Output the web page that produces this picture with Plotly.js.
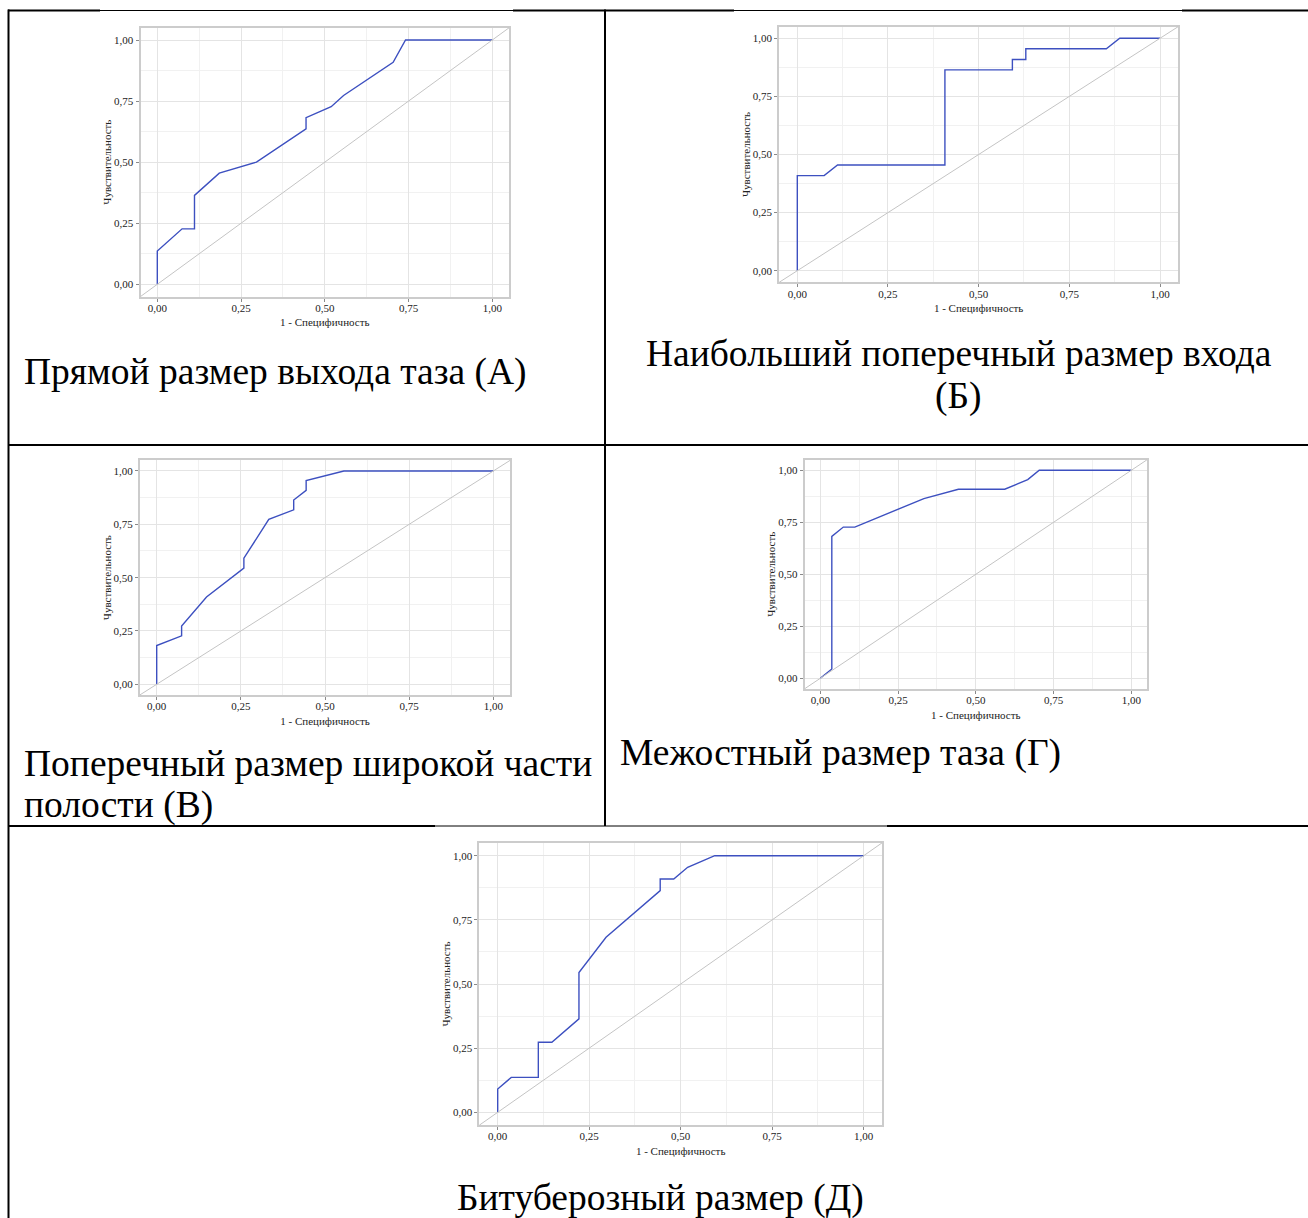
<!DOCTYPE html>
<html>
<head>
<meta charset="utf-8">
<script src="https://cdn.plot.ly/plotly-3.0.1.min.js"></script>
<style>
  html, body { margin: 0; padding: 0; background: #ffffff; }
  #chart { width: 1308px; height: 1218px; }
</style>
</head>
<body>
<div id="chart"></div>
<script>
// ---------- DATA ----------
const xTitle = "1 - Специфичность";
const yTitle = "Чувствительность";
const tickVals = [0, 0.25, 0.5, 0.75, 1];
const tickText = ["0,00", "0,25", "0,50", "0,75", "1,00"];

// (А) Прямой размер выхода таза
const fprA = [0, 0, 0.074, 0.111, 0.111, 0.185, 0.296, 0.444, 0.444, 0.519, 0.556, 0.704, 0.741, 1];
const tprA = [0, 0.136, 0.227, 0.227, 0.364, 0.455, 0.5, 0.636, 0.682, 0.727, 0.773, 0.909, 1, 1];

// (Б) Наибольший поперечный размер входа
const fprB = [0, 0, 0.074, 0.111, 0.407, 0.407, 0.593, 0.593, 0.630, 0.630, 0.852, 0.889, 1];
const tprB = [0, 0.409, 0.409, 0.455, 0.455, 0.864, 0.864, 0.909, 0.909, 0.955, 0.955, 1, 1];

// (В) Поперечный размер широкой части полости
const fprC = [0, 0, 0.074, 0.074, 0.148, 0.259, 0.259, 0.333, 0.407, 0.407, 0.444, 0.444, 0.556, 1];
const tprC = [0, 0.182, 0.227, 0.273, 0.409, 0.545, 0.591, 0.773, 0.818, 0.864, 0.909, 0.955, 1, 1];

// (Г) Межостный размер таза
const fprD = [0, 0.037, 0.037, 0.074, 0.111, 0.333, 0.444, 0.593, 0.667, 0.704, 1];
const tprD = [0, 0.045, 0.682, 0.727, 0.727, 0.864, 0.909, 0.909, 0.955, 1, 1];

// (Д) Битуберозный размер
const fprE = [0, 0, 0.037, 0.111, 0.111, 0.148, 0.222, 0.222, 0.296, 0.444, 0.444, 0.481, 0.519, 0.593, 1];
const tprE = [0, 0.091, 0.136, 0.136, 0.273, 0.273, 0.364, 0.545, 0.682, 0.864, 0.909, 0.909, 0.955, 1, 1];

const captionA = "Прямой размер выхода таза (А)";
const captionB = ["Наибольший поперечный размер входа", "(Б)"];
const captionC = ["Поперечный размер широкой части", "полости (В)"];
const captionD = "Межостный размер таза (Г)";
const captionE = "Битуберозный размер (Д)";

// ---------- LAYOUT GEOMETRY (pixels) ----------
const W = 1308, H = 1218;
// pixel positions of data 0 and 1 on each panel: [x0, x1, y0, y1]
const panels = [
  {fpr: fprA, tpr: tprA, px: [157.3, 492.3, 284.3, 40.0]},
  {fpr: fprB, tpr: tprB, px: [797.3, 1160.0, 270.7, 38.3]},
  {fpr: fprC, tpr: tprC, px: [156.7, 493.3, 684.3, 471.0]},
  {fpr: fprD, tpr: tprD, px: [820.3, 1131.3, 678.3, 470.3]},
  {fpr: fprE, tpr: tprE, px: [497.7, 863.7, 1112.3, 855.7]}
];
const PAD = 0.05;
const serif = "'Liberation Serif', 'Times New Roman', serif";

const traces = [];
const layout = {
  width: W, height: H,
  margin: {l: 0, r: 0, t: 0, b: 0},
  paper_bgcolor: "#ffffff",
  plot_bgcolor: "#ffffff",
  showlegend: false,
  font: {family: serif, color: "#222222"},
  shapes: [],
  annotations: []
};

panels.forEach((p, i) => {
  const n = i === 0 ? "" : String(i + 1);
  const [x0, x1, y0, y1] = p.px;
  const sx = x1 - x0, sy = y0 - y1;
  const left = x0 - PAD * sx, right = x1 + PAD * sx;
  const bottom = y0 + PAD * sy, top = y1 - PAD * sy;

  const axCommon = {
    range: [-PAD, 1 + PAD],
    tickvals: tickVals,
    ticktext: tickText,
    ticks: "outside",
    ticklen: 3,
    tickwidth: 1,
    tickcolor: "#8a8a8a",
    tickfont: {family: serif, size: 11, color: "#222222"},
    showline: true,
    mirror: true,
    linecolor: "#cccccc",
    linewidth: 2,
    showgrid: true,
    gridcolor: "#e4e4e4",
    gridwidth: 1,
    zeroline: false,
    minor: {dtick: 0.125, tick0: 0.125, showgrid: true, gridcolor: "#f1f1f1", ticks: ""},
    fixedrange: true
  };
  layout["xaxis" + n] = Object.assign({}, axCommon, {
    domain: [left / W, right / W],
    anchor: "y" + n,
    ticklabelstandoff: -3,
    title: {text: xTitle, font: {family: serif, size: 11, color: "#222222"}, standoff: 6}
  });
  layout["yaxis" + n] = Object.assign({}, axCommon, {
    domain: [1 - bottom / H, 1 - top / H],
    anchor: "x" + n,
    title: {text: yTitle, font: {family: serif, size: 11, color: "#222222"}, standoff: 0}
  });

  // reference diagonal across the plot area
  layout.shapes.push({
    type: "line", xref: "x" + n + " domain", yref: "y" + n + " domain",
    x0: 0, y0: 0, x1: 1, y1: 1,
    line: {color: "#c4c4c4", width: 1}, layer: "above"
  });

  traces.push({
    type: "scatter", mode: "lines",
    x: p.fpr, y: p.tpr,
    xaxis: "x" + n, yaxis: "y" + n,
    line: {color: "#3d50c0", width: 1.4},
    hoverinfo: "skip"
  });
});

// ---------- TABLE BORDERS ----------
function hline(y, xa, xb, w) {
  layout.shapes.push({type: "line", xref: "paper", yref: "paper",
    x0: xa / W, x1: xb / W, y0: 1 - y / H, y1: 1 - y / H,
    line: {color: "#000000", width: w}, layer: "below"});
}
function vline(x, ya, yb, w) {
  layout.shapes.push({type: "line", xref: "paper", yref: "paper",
    x0: x / W, x1: x / W, y0: 1 - ya / H, y1: 1 - yb / H,
    line: {color: "#000000", width: w}, layer: "below"});
}
vline(8.5, 9.5, 1218, 2);
vline(605, 9.5, 826, 2);
hline(10.5, 8, 1308, 1);
hline(10.5, 8, 100, 2);
hline(10.5, 513, 734, 2);
hline(10.5, 1182, 1308, 2);
hline(445, 8, 1308, 2);
hline(826, 8, 1308, 1);
hline(826, 8, 435, 2);
hline(826, 887, 1308, 2);

// ---------- CAPTIONS ----------
const capFont = {family: serif, size: 37.5, color: "#000000"};
function caption(text, x, y, anchor) {
  layout.annotations.push({xref: "paper", yref: "paper",
    x: x / W, y: 1 - y / H, text: text, showarrow: false,
    xanchor: anchor, yanchor: "middle", font: capFont});
}
caption(captionA, 22, 372, "left");
caption(captionB[0], 959, 353, "center");
caption(captionB[1], 959, 396, "center");
caption(captionC[0], 22, 763, "left");
caption(captionC[1], 22, 805, "left");
caption(captionD, 618, 753, "left");
caption(captionE, 661, 1198, "center");

Plotly.newPlot("chart", traces, layout, {displayModeBar: false, staticPlot: true});
</script>
</body>
</html>
